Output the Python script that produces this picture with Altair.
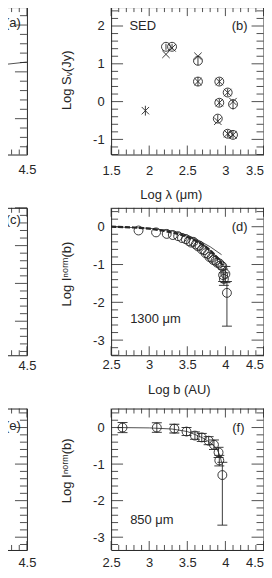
import altair as alt
import numpy as np
import pandas as pd

FONT = "Liberation Sans"
INK = "#262626"

# ---------------- data ----------------
# panel (b): SED
sed_obs_x = [2.22, 2.30, 2.64, 2.64, 2.92, 3.03, 2.92, 3.10, 2.90, 3.03, 3.10]
sed_obs_y = [1.45, 1.45, 1.08, 0.53, 0.53, 0.24, -0.03, -0.07, -0.45, -0.85, -0.88]
sed_obs_e = [0.08, 0.08, 0.12, 0.12, 0.10, 0.10, 0.10, 0.14, 0.10, 0.10, 0.10]
sed_mod_x = [1.95, 2.22, 2.30, 2.64, 2.64, 2.92, 3.03, 2.92, 3.10, 2.90, 3.03, 3.10]
sed_mod_y = [-0.24, 1.25, 1.42, 1.20, 0.53, 0.53, 0.24, -0.03, 0.00, -0.52, -0.85, -0.88]
sed_bar_x = [1.95]
sed_bar_lo = [-0.37]
sed_bar_hi = [-0.11]

# panel (d): 1300 um profile
d_x = [2.86, 3.09, 3.23, 3.31, 3.38, 3.43, 3.48, 3.52, 3.55, 3.58, 3.61, 3.64, 3.66, 3.69,
       3.72, 3.74, 3.77, 3.79, 3.82, 3.84, 3.87, 3.89, 3.92, 3.94, 3.96, 3.97, 4.00, 3.98, 4.02]
d_y = [-0.10, -0.15, -0.19, -0.22, -0.25, -0.30, -0.33, -0.38, -0.42, -0.40, -0.47, -0.52, -0.50, -0.60,
       -0.62, -0.70, -0.72, -0.80, -0.82, -0.88, -0.90, -0.95, -0.97, -1.02, -1.05, -1.28, -1.25, -1.38, -1.75]
d_err_x = [3.97, 3.98, 4.00, 4.02]
d_err_lo = [-1.45, -1.55, -1.48, -2.63]
d_err_hi = [-1.12, -1.22, -1.05, -1.45]
d_mod_x = [2.5, 2.8, 3.0, 3.2, 3.4, 3.5, 3.6, 3.7, 3.8, 3.85, 3.9, 3.95, 3.97]
d_mod_y = [0.0, -0.02, -0.05, -0.11, -0.20, -0.27, -0.36, -0.47, -0.62, -0.72, -0.84, -0.98, -1.05]
d_pl_x = [2.5, 3.0, 3.3, 3.5, 3.62, 3.8, 3.95]
d_pl_y = [0.0, -0.04, -0.11, -0.22, -0.33, -0.53, -0.74]

# panel (f): 850 um profile
f_x = [2.65, 3.10, 3.33, 3.49, 3.60, 3.69, 3.78, 3.85, 3.91, 3.92, 3.96]
f_y = [0.00, 0.00, -0.03, -0.11, -0.22, -0.27, -0.36, -0.47, -0.68, -0.90, -1.30]
f_lo = [-0.14, -0.13, -0.15, -0.22, -0.32, -0.38, -0.47, -0.60, -0.82, -1.05, -2.67]
f_hi = [0.14, 0.13, 0.09, 0.00, -0.12, -0.16, -0.25, -0.34, -0.54, -0.76, -0.95]
f_mod_x = [2.58, 3.0, 3.3, 3.5, 3.6, 3.7, 3.8, 3.86, 3.9, 3.93, 3.95]
f_mod_y = [0.0, -0.01, -0.04, -0.11, -0.19, -0.28, -0.41, -0.52, -0.64, -0.78, -0.95]

# panel (a): visible part of its curve
a_x = [4.0, 4.5]
a_y = [1.12, 1.21]

# ---------------- helpers ----------------
W_R = 153
H1, H2, H3 = 148, 148, 142
W_L = 60


def tick_vals(dom, step):
    start = np.ceil(dom[0] / step - 1e-9) * step
    return [round(float(v), 6) for v in np.arange(start, dom[1] + 1e-9, step)]


def is_major(v, m):
    return abs(v / m - round(v / m)) < 1e-6


def ticks_df(xdom, ydom, w, h, sides, xstep=0.1, xmaj=0.5, ystep=0.2, ymaj=1.0):
    xpx = w / (xdom[1] - xdom[0])
    ypx = h / (ydom[1] - ydom[0])
    rows = []
    for v in tick_vals(xdom, xstep):
        L = (9 if is_major(v, xmaj) else 5) / ypx
        if "bottom" in sides:
            rows.append(dict(x=v, x2=v, y=ydom[0], y2=ydom[0] + L))
        if "top" in sides:
            rows.append(dict(x=v, x2=v, y=ydom[1], y2=ydom[1] - L))
    for v in tick_vals(ydom, ystep):
        L = (12 if is_major(v, ymaj) else 7) / xpx
        if "left" in sides:
            rows.append(dict(x=xdom[0], x2=xdom[0] + L, y=v, y2=v))
        if "right" in sides:
            rows.append(dict(x=xdom[1], x2=xdom[1] - L, y=v, y2=v))
    return pd.DataFrame(rows)


def panel(xdom, ydom, w, h, xaxis, yaxis, sides, builders, **tk):
    xs = alt.Scale(domain=xdom, nice=False, zero=False)
    ys = alt.Scale(domain=ydom, nice=False, zero=False)

    def X(f):
        return alt.X(f, type="quantitative", scale=xs, axis=xaxis)

    def Y(f):
        return alt.Y(f, type="quantitative", scale=ys, axis=yaxis)

    def XD(v):
        return alt.XDatum(v, type="quantitative", scale=xs, axis=xaxis)

    def YD(v):
        return alt.YDatum(v, type="quantitative", scale=ys, axis=yaxis)

    tdf = ticks_df(xdom, ydom, w, h, sides, **tk)
    layers = [
        alt.Chart(tdf).mark_rule(color=INK, strokeWidth=0.8).encode(
            x=X("x"), x2="x2", y=Y("y"), y2="y2")
    ]
    for b in builders:
        layers.extend(b(X, Y, XD, YD))
    return alt.layer(*layers).properties(width=w, height=h)


one = pd.DataFrame({"k": [0]})


def label(text, xv, yv, align="left", size=13):
    def b(X, Y, XD, YD):
        return [alt.Chart(one).mark_text(text=text, align=align, baseline="middle",
                                         font=FONT, fontSize=size, color=INK)
                .encode(x=XD(xv), y=YD(yv))]
    return b


def circles(xs_, ys_):
    def b(X, Y, XD, YD):
        df = pd.DataFrame({"x": xs_, "y": ys_})
        return [alt.Chart(df).mark_point(shape="circle", filled=False, size=80,
                                         stroke=INK, strokeWidth=0.9, opacity=1)
                .encode(x=X("x"), y=Y("y"))]
    return b


def crosses(xs_, ys_):
    def b(X, Y, XD, YD):
        df = pd.DataFrame({"x": xs_, "y": ys_})
        return [alt.Chart(df).mark_point(shape="M-1,-1L1,1M-1,1L1,-1", filled=False, size=55,
                                         stroke=INK, strokeWidth=0.9, opacity=1)
                .encode(x=X("x"), y=Y("y"))]
    return b


def errbars(xs_, lo, hi, caps=True, cap=10):
    def b(X, Y, XD, YD):
        df = pd.DataFrame({"x": xs_, "lo": lo, "hi": hi})
        out = [alt.Chart(df).mark_rule(color=INK, strokeWidth=0.9)
               .encode(x=X("x"), y=Y("lo"), y2="hi")]
        if caps:
            out.append(alt.Chart(df).mark_tick(orient="horizontal", size=cap, thickness=0.9, color=INK, opacity=1)
                       .encode(x=X("x"), y=Y("lo")))
            out.append(alt.Chart(df).mark_tick(orient="horizontal", size=cap, thickness=0.9, color=INK, opacity=1)
                       .encode(x=X("x"), y=Y("hi")))
        return out
    return b


def line(xs_, ys_, dash=None, width=0.8):
    def b(X, Y, XD, YD):
        df = pd.DataFrame({"x": xs_, "y": ys_})
        kw = dict(color=INK, strokeWidth=width, clip=True)
        if dash:
            kw["strokeDash"] = dash
        return [alt.Chart(df).mark_line(**kw).encode(x=X("x"), y=Y("y"))]
    return b


LAB = "'' + datum.value"


def bx_axis(vals, title, pad, tx=None, ty=None):
    last = vals[-1]
    kw = dict(values=vals, labelExpr=LAB, labelPadding=pad,
              labelFlush=False, labelOverlap=False,
              labelAlign={"condition": {"test": f"datum.value >= {last - 1e-6}", "value": "right"},
                          "value": "center"})
    if title:
        kw.update(title=title, titleX=tx, titleY=ty, titleBaseline="middle", titleAlign="center")
    else:
        kw.update(title=None)
    return alt.Axis(**kw)


def y_axis(vals, title, ty):
    return alt.Axis(values=vals, labelExpr=LAB, labelPadding=7, labelFlush=False,
                    labelOverlap=False, title=title, titleX=-45, titleY=ty, titleAngle=270,
                    titleBaseline="middle", titleAlign="center")


def left_x_axis(pad):
    return alt.Axis(values=[4.5], labelExpr=LAB, labelPadding=pad, labelFlush=False,
                    labelOverlap=False, title=None)


LX = [4.5 - W_L / 77.0, 4.5]
LAB_X = 4.42  # panel letters of the cut-off left column

# (a)
A_Y = [-0.766, 2.383]
pa = panel(LX, A_Y, W_L, H1, left_x_axis(9), None, ("top", "bottom", "right"),
           [line(a_x, a_y), label("(a)", LAB_X, 2.04, align="right")])
# (b)
B_X, B_Y = [1.5, 3.5], [-1.4, 2.5]
pb = panel(B_X, B_Y, W_R, H1,
           bx_axis([1.5, 2, 2.5, 3, 3.5], "Log λ (μm)", 10, 60, 40),
           y_axis([-1, 0, 1, 2], "Log Sᵥ(Jy)", 73),
           ("top", "bottom", "left", "right"),
           [errbars(sed_obs_x, [y - e for y, e in zip(sed_obs_y, sed_obs_e)],
                    [y + e for y, e in zip(sed_obs_y, sed_obs_e)], caps=False),
            errbars(sed_bar_x, sed_bar_lo, sed_bar_hi, caps=False),
            circles(sed_obs_x, sed_obs_y),
            crosses(sed_mod_x, sed_mod_y),
            label("SED", 1.74, 2.0),
            label("(b)", 3.29, 2.0, align="right")])
# (c)
C_Y = [-2.9, 1.0]
pc = panel(LX, C_Y, W_L, H2, left_x_axis(4), None, ("top", "bottom", "right"),
           [label("(c)", LAB_X, 0.68, align="right")])
# (d)
D_X, D_Y = [2.5, 4.5], [-3.4, 0.5]
pd_ = panel(D_X, D_Y, W_R, H2,
            bx_axis([2.5, 3, 3.5, 4, 4.5], "Log b (AU)", 3, 68, 34),
            y_axis([-3, -2, -1, 0], "Log Iⁿᵒʳᵐ(b)", 66),
            ("top", "bottom", "left", "right"),
            [line(d_pl_x, d_pl_y, width=0.8),
             line(d_mod_x, d_mod_y, dash=[5, 2], width=2.2),
             errbars(d_err_x, d_err_lo, d_err_hi),
             circles(d_x, d_y),
             label("1300  μm", 2.75, -2.45),
             label("(d)", 4.29, 0.0, align="right")])
# (e)
F_Y = [-3.35, 0.52]
pe = panel(LX, F_Y, W_L, H3, left_x_axis(7), None, ("top", "bottom", "right"),
           [label("(e)", LAB_X, 0.03, align="right")])
# (f)
pf = panel(D_X, F_Y, W_R, H3,
           bx_axis([2.5, 3, 3.5, 4, 4.5], None, 7),
           y_axis([-3, -2, -1, 0], "Log Iⁿᵒʳᵐ(b)", 62),
           ("top", "bottom", "left", "right"),
           [line(f_mod_x, f_mod_y),
            errbars(f_x, f_lo, f_hi),
            circles(f_x, f_y),
            label("850  μm", 2.75, -2.53),
            label("(f)", 4.25, 0.0, align="right")])

chart = (
    alt.concat(pa, pb, pc, pd_, pe, pf, columns=2,
               spacing={"row": 53.5, "column": 84.5}, bounds="flush")
    .properties(padding={"left": 18 - W_L, "top": -3, "right": -1, "bottom": -2})
    .configure_view(stroke=INK, strokeWidth=1)
    .configure_axis(labelFont=FONT, labelFontSize=13, labelColor=INK,
                    titleFont=FONT, titleFontSize=13, titleColor=INK, titleFontWeight="normal",
                    grid=False, ticks=False, domain=False)
)

chart.save("out.html", embed_options={"renderer": "svg", "actions": False})
